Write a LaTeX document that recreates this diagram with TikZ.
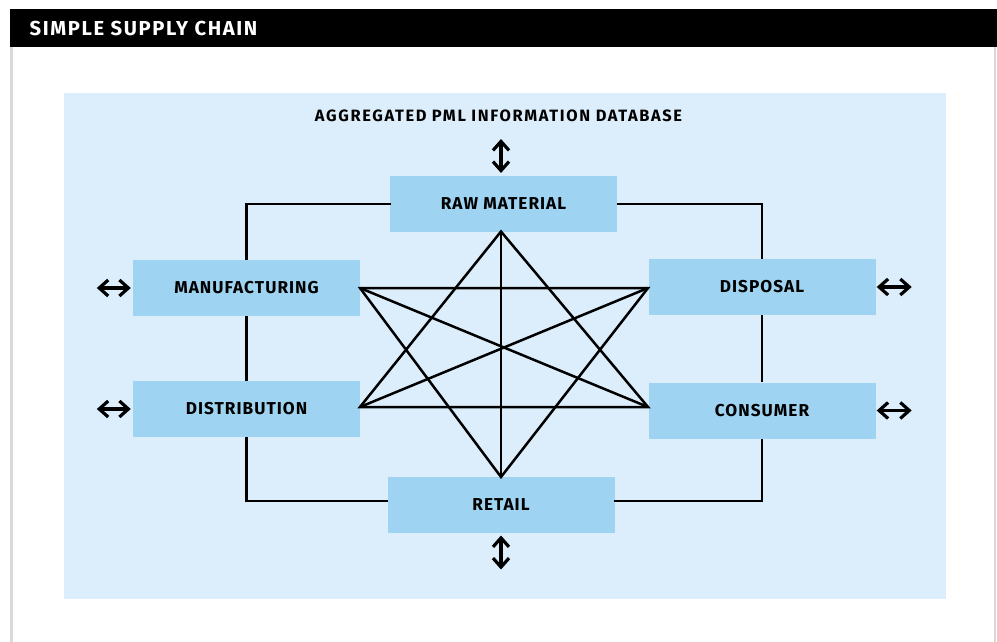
\documentclass[tikz,border=0pt]{standalone}
\usepackage{fontspec}
\setmainfont{Fira Sans}
\newfontfamily\lblfont{Fira Sans}[LetterSpace=6]
\newfontfamily\dbfont{Fira Sans}[LetterSpace=10]
\newfontfamily\ttlfont{Fira Sans}[LetterSpace=8]
\usetikzlibrary{arrows.meta}
\definecolor{panelblue}{HTML}{DCEEFB}
\definecolor{boxblue}{HTML}{9ED4F2}
\definecolor{rulegrey}{HTML}{D9D9D9}
\begin{document}
\begin{tikzpicture}[x=1pt,y=-1pt,
  stage/.style={fill=boxblue,minimum width=227pt,minimum height=56pt,inner sep=0pt,
    font=\lblfont\bfseries\fontsize{17.2}{20}\selectfont},
  link/.style={line width=2.5pt},
  dblarrow/.style={line width=3.2pt,{Straight Barb[length=9pt,width=16pt,line width=3.2pt]}-{Straight Barb[length=9pt,width=16pt,line width=3.2pt]}}]
\useasboundingbox (0,0) rectangle (997,642);
% page frame and header bar
\fill[white] (0,0) rectangle (997,642);
\draw[rulegrey,line width=2.5pt] (11.25,47) -- (11.25,642);
\draw[rulegrey,line width=2.5pt] (995,47) -- (995,642);
\fill[black] (10,9) rectangle (997,47);
\node[anchor=west,text=white,inner sep=0pt,font=\ttlfont\bfseries\fontsize{20.2}{23}\selectfont]
  (title) at (29.5,29) {SIMPLE SUPPLY CHAIN};
% light blue panel
\fill[panelblue] (64,93) rectangle (946,599);
\node[font=\dbfont\bfseries\fontsize{16.4}{19}\selectfont,inner sep=0pt]
  (db) at (498.5,115.5) {AGGREGATED PML INFORMATION DATABASE};
% stages
\node[stage] (rm)   at (503.5,203.5) {RAW MATERIAL};
\node[stage] (man)  at (246.5,288)   {MANUFACTURING};
\node[stage] (dist) at (246.5,409)   {DISTRIBUTION};
\node[stage] (disp) at (762,287)     {DISPOSAL};
\node[stage] (cons) at (762,410.5)   {CONSUMER};
\node[stage] (ret)  at (501,505)     {RETAIL};
% meeting points of the inner network
\coordinate (top) at (501,231.5);
\coordinate (bot) at (501,477);
\coordinate (mR)  at (360,288);
\coordinate (dR)  at (360,407);
\coordinate (pL)  at (648,288);
\coordinate (cL)  at (648,407);
\coordinate (rmL) at (390.5,204);
\coordinate (rmR) at (617,204);
\coordinate (retL) at (388,501);
\coordinate (retR) at (614,501);
% outer ring
\draw[link] (rmL) -| (man.north);
\draw[link] (man.south) -- (dist.north);
\draw[link] (dist.south) |- (retL);
\draw[link] (retR) -| (cons.south);
\draw[link] (cons.north) -- (disp.south);
\draw[link] (disp.north) |- (rmR);
% inner network
\draw[link,line join=miter] (top) -- (dR) -- (cL) -- cycle;
\draw[link,line join=miter] (bot) -- (mR) -- (pL) -- cycle;
\draw[link] (top) -- (bot);
\draw[link] (mR) -- (cL);
\draw[link] (dR) -- (pL);
% exchange arrows
\draw[dblarrow] ([xshift=-2pt]man.west) -- ++(-34,0);
\draw[dblarrow] ([xshift=-2pt]dist.west) -- ++(-34,0);
\draw[dblarrow] ([xshift=1pt]disp.east) -- ++(35,0);
\draw[dblarrow] ([xshift=1pt]cons.east) -- ++(35,0);
\draw[dblarrow] (501,139) -- (501,173);
\draw[dblarrow] (501,535.5) -- (501,569.5);
\end{tikzpicture}
\end{document}
